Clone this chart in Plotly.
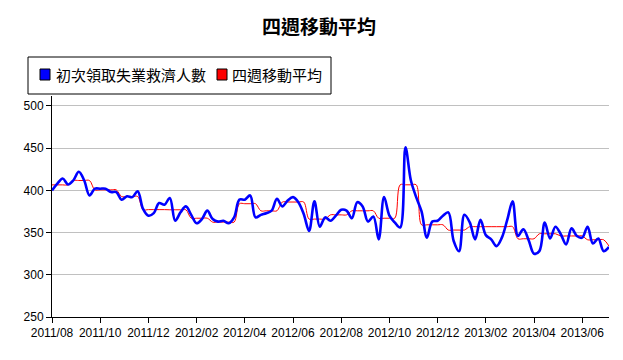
import pandas as pd
import plotly.graph_objects as go

# ---- data (weekly, thousands) ----
start_week = "2011-08-06"
claims = [
    400, 408, 414, 407, 412, 422, 412, 394, 402, 402,
    402, 398, 398, 389, 393, 392, 399, 378, 370, 373,
    385, 383, 391, 364, 374, 381, 371, 361, 366, 376,
    366, 363, 364, 361, 368, 389, 389, 394, 368, 371,
    373, 376, 390, 381, 388, 392, 386, 372, 352, 387,
    357, 368, 364, 370, 377, 376, 367, 386, 381, 363,
    369, 342, 392, 370, 362, 356, 451, 412, 392, 375,
    344, 363, 364, 370, 374, 340, 328, 371, 362, 342,
    365, 347, 342, 334, 344, 365, 387, 346, 354, 341,
    325, 328, 362, 343, 357, 348, 336, 355, 346, 344,
    357, 337, 343, 328, 333,
]
moving_avg = [
    406.5, 406.5, 406.5, 406.5,
    411.7, 411.7, 411.7, 411.7,
    400.6, 400.6, 400.6, 400.6, 400.6,
    392.7, 392.7, 392.7, 392.7,
    377.2, 377.2, 377.2, 377.2, 377.2,
    377.0, 377.0, 377.0, 377.0,
    367.0, 367.0, 367.0, 367.0,
    362.4, 362.4, 362.4, 362.4, 362.4,
    384.2, 384.2, 384.2, 384.2,
    375.8, 375.8, 375.8, 375.8,
    386.2, 386.2, 386.2, 386.2, 386.2,
    366.0, 366.0, 366.0, 366.0,
    371.0, 371.0, 371.0, 371.0,
    375.8, 375.8, 375.8, 375.8, 375.8,
    367.0, 367.0, 367.0, 367.0,
    406.6, 406.6, 406.6, 406.6,
    359.2, 359.2, 359.2, 359.2, 359.2,
    353.0, 353.0, 353.0, 353.0,
    357.0, 357.0, 357.0, 357.0,
    357.0, 357.0, 357.0, 357.0, 357.0,
    342.7, 342.7, 342.7, 342.7,
    348.6, 348.6, 348.6, 348.6,
    346.0, 346.0, 346.0, 346.0, 346.0,
    341.5, 341.5, 341.5, 341.5,
    334.0,
]
tick_labels = ["2011/08", "2011/10", "2011/12", "2012/02", "2012/04", "2012/06",
               "2012/08", "2012/10", "2012/12", "2013/02", "2013/04", "2013/06"]
y_ticks = [250, 300, 350, 400, 450, 500]
series_names = ["初次領取失業救濟人數", "四週移動平均"]
series_colors = ["#0000ff", "#ff0000"]

weeks = pd.date_range(start_week, periods=len(claims), freq="7D")
tick_weeks = list(weeks[::9])[:len(tick_labels)]

W, H = 623, 360
L, R, T, B = 52, 14, 96, 43
pw, ph = W - L - R, H - T - B

def px(x):
    return (x - L) / pw

def py(y):
    return (H - B - y) / ph

fig = go.Figure()
fig.add_trace(go.Scatter(x=weeks, y=moving_avg, mode="lines", name=series_names[1],
                         line=dict(color=series_colors[1], width=1, shape="spline", smoothing=1),
                         showlegend=False))
fig.add_trace(go.Scatter(x=weeks, y=claims, mode="lines", name=series_names[0],
                         line=dict(color=series_colors[0], width=2.6, shape="spline", smoothing=1),
                         showlegend=False))

# legend box drawn manually (square swatches)
shapes = [
    dict(type="rect", xref="paper", yref="paper", x0=px(28), x1=px(331), y0=py(94), y1=py(57),
         line=dict(color="black", width=1), fillcolor="white", layer="above"),
    dict(type="rect", xref="paper", yref="paper", x0=px(40), x1=px(50), y0=py(80), y1=py(69),
         line=dict(color="black", width=1), fillcolor=series_colors[0], layer="above"),
    dict(type="rect", xref="paper", yref="paper", x0=px(217), x1=px(227), y0=py(80), y1=py(69),
         line=dict(color="black", width=1), fillcolor=series_colors[1], layer="above"),
]
annotations = [
    dict(text=series_names[0], xref="paper", yref="paper", x=px(54), y=py(75),
         xanchor="left", yanchor="middle", showarrow=False,
         font=dict(family="Noto Sans CJK TC", size=15, color="black")),
    dict(text=series_names[1], xref="paper", yref="paper", x=px(230), y=py(75),
         xanchor="left", yanchor="middle", showarrow=False,
         font=dict(family="Noto Sans CJK TC", size=15, color="black")),
]

fig.update_layout(
    width=W, height=H,
    margin=dict(l=L, r=R, t=T, b=B, autoexpand=False),
    paper_bgcolor="white", plot_bgcolor="white",
    title=dict(text="四週移動平均", x=319 / W, xanchor="center", xref="container",
               y=1 - 27 / H, yref="container", yanchor="middle",
               font=dict(family="Noto Sans CJK TC", size=19, color="black", weight="bold")),
    shapes=shapes, annotations=annotations,
    showlegend=False,
)
fig.update_xaxes(range=[weeks[0], weeks[-1]], tickvals=tick_weeks, ticktext=tick_labels,
                 showgrid=False, showline=True, linecolor="black", linewidth=1,
                 ticks="outside", ticklen=5, tickcolor="black", zeroline=False,
                 tickfont=dict(family="Liberation Sans", size=12, color="black"))
fig.update_yaxes(range=[250, 511.8], tickvals=y_ticks,
                 showgrid=True, gridcolor="#c0c0c0", gridwidth=1,
                 showline=True, linecolor="black", linewidth=1,
                 ticks="outside", ticklen=5, tickcolor="black", zeroline=False,
                 tickfont=dict(family="Liberation Sans", size=12, color="black"))

fig.write_html("out.html", config={"displayModeBar": False},
               post_script="document.body.style.margin='0';")
